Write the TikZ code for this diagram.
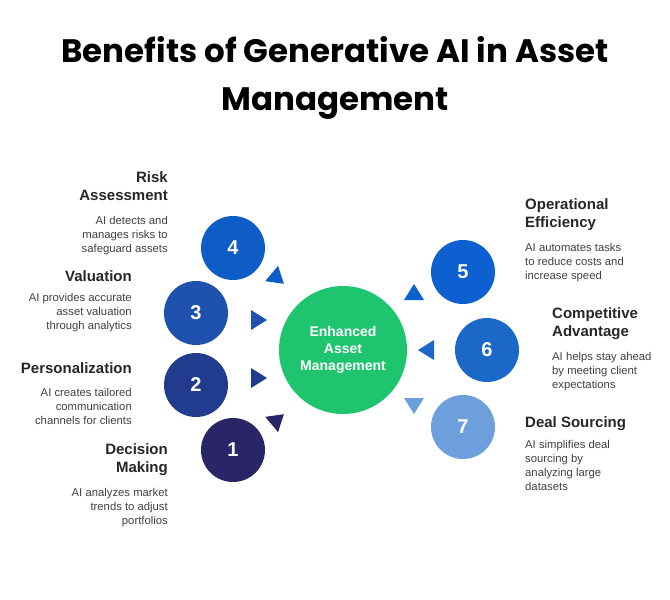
\documentclass[tikz,border=0pt]{standalone}
\usepackage{fontspec}
\setmainfont{Liberation Sans}
\newfontfamily\titlefont{Poppins}
\begin{document}
\begin{tikzpicture}[x=1pt,y=-1pt,
  num/.style={circle,minimum size=64pt,inner sep=0pt,text=white,font=\bfseries\fontsize{20}{20}\selectfont},
  head/.style={font=\bfseries\fontsize{15}{18}\selectfont,text=black!85,inner sep=0pt},
  body/.style={font=\fontsize{11.3}{14}\selectfont,text=black!75,inner sep=0pt},
  tri/.style={fill=#1,draw=none}]
\useasboundingbox (0,0) rectangle (670,600);
\definecolor{cA}{HTML}{2A2566}\definecolor{cB}{HTML}{213C8E}\definecolor{cC}{HTML}{1E52AE}
\definecolor{cD}{HTML}{0E5CC6}\definecolor{cE}{HTML}{0C60D0}\definecolor{cF}{HTML}{1B68C8}
\definecolor{cG}{HTML}{6C9FDC}\definecolor{cGr}{HTML}{1FC46F}
\node[inner sep=0pt,font=\titlefont\bfseries\fontsize{32.5}{48}\selectfont,align=center] (title) at (335,78) {Benefits of Generative AI in Asset\\Management};
\node[circle,minimum size=128pt,inner sep=0pt,fill=cGr,text=white,font=\bfseries\fontsize{14}{17}\selectfont,align=center] (c) at (343,350) {Enhanced\\Asset\\Management};
\node[num,fill=cD] (n4) at (233,248) {4};
\node[num,fill=cC] (n3) at (196,313) {3};
\node[num,fill=cB] (n2) at (196,385) {2};
\node[num,fill=cA] (n1) at (233,450) {1};
\node[num,fill=cE] (n5) at (463,272) {5};
\node[num,fill=cF] (n6) at (487,350) {6};
\node[num,fill=cG] (n7) at (463,427) {7};
% triangles
\foreach \x/\y/\a/\c in {277/278/-40/cD, 258/320/0/cC, 258/378/0/cB, 277/420/40/cA, 414/293/90/cE, 427/350/180/cF, 414/405/-90/cG}{
  \fill[\c,shift={(\x,\y)},rotate=\a] (9,0) -- (-7,-10) -- (-7,10) -- cycle;
}
% texts left
\node[head,anchor=north east,align=right] (h4) at (168,171) {Risk\\Assessment};
\node[body,anchor=north east,align=right] (b4) at (168,216) {AI detects and\\manages risks to\\safeguard assets};
\node[head,anchor=north east,align=right] (h3) at (132,270) {Valuation};
\node[body,anchor=north east,align=right] (b3) at (132,293) {AI provides accurate\\asset valuation\\through analytics};
\node[head,anchor=north east,align=right] (h2) at (132,362) {Personalization};
\node[body,anchor=north east,align=right] (b2) at (132,388) {AI creates tailored\\communication\\channels for clients};
\node[head,anchor=north east,align=right] (h1) at (168,443) {Decision\\Making};
\node[body,anchor=north east,align=right] (b1) at (168,488) {AI analyzes market\\trends to adjust\\portfolios};
% texts right
\node[head,anchor=north west,align=left] (h5) at (525,198) {Operational\\Efficiency};
\node[body,anchor=north west,align=left] (b5) at (525,243) {AI automates tasks\\to reduce costs and\\increase speed};
\node[head,anchor=north west,align=left] (h6) at (552,307) {Competitive\\Advantage};
\node[body,anchor=north west,align=left] (b6) at (552,352) {AI helps stay ahead\\by meeting client\\expectations};
\node[head,anchor=north west,align=left] (h7) at (525,416) {Deal Sourcing};
\node[body,anchor=north west,align=left] (b7) at (525,440) {AI simplifies deal\\sourcing by\\analyzing large\\datasets};
\end{tikzpicture}
\end{document}
